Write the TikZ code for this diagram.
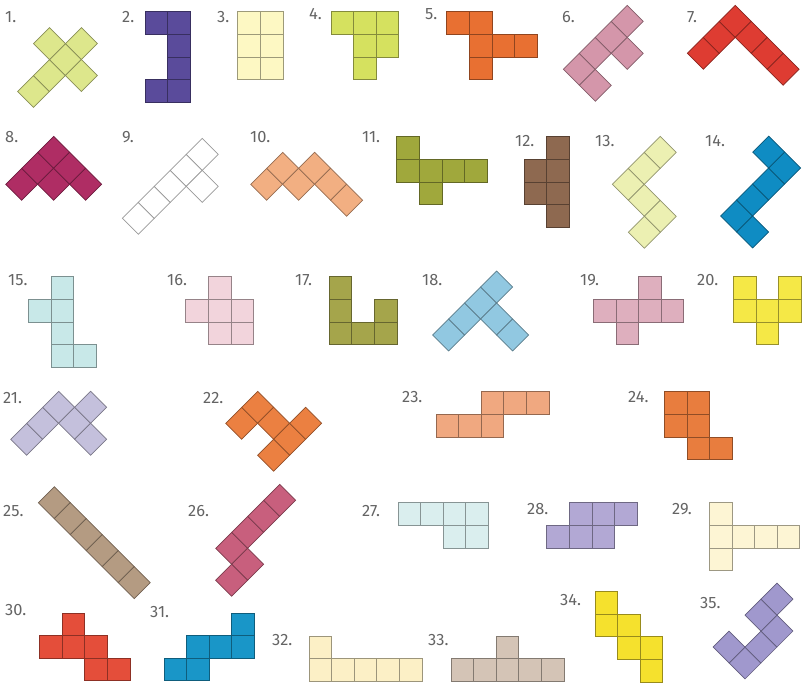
\documentclass[tikz,border=0pt]{standalone}
\usepackage{fontspec}
\setmainfont{Fira Sans}
\usepackage{tikz}
\usetikzlibrary{positioning}
\definecolor{labgrey}{RGB}{100,100,100}
\definecolor{limelt}{RGB}{221,231,140}
\definecolor{purpdk}{RGB}{90,75,155}
\definecolor{yellt}{RGB}{253,248,195}
\definecolor{lime}{RGB}{213,225,95}
\definecolor{orng}{RGB}{232,112,50}
\definecolor{mauve}{RGB}{212,150,170}
\definecolor{redd}{RGB}{222,60,50}
\definecolor{magen}{RGB}{175,45,100}
\definecolor{peach}{RGB}{242,175,130}
\definecolor{olive}{RGB}{160,168,60}
\definecolor{brwn}{RGB}{142,105,80}
\definecolor{palegreen}{RGB}{236,240,178}
\definecolor{bluedk}{RGB}{15,140,195}
\definecolor{cyanlt}{RGB}{200,232,232}
\definecolor{pinklt}{RGB}{242,212,220}
\definecolor{olivelt}{RGB}{165,165,75}
\definecolor{skyblue}{RGB}{145,200,225}
\definecolor{pink}{RGB}{222,175,190}
\definecolor{yell}{RGB}{245,232,70}
\definecolor{lavlt}{RGB}{196,192,220}
\definecolor{orng2}{RGB}{235,128,65}
\definecolor{salmon}{RGB}{240,168,128}
\definecolor{orng3}{RGB}{232,125,62}
\definecolor{tan}{RGB}{180,155,130}
\definecolor{rose}{RGB}{200,95,125}
\definecolor{cyanpl}{RGB}{218,238,238}
\definecolor{lavdk}{RGB}{178,168,212}
\definecolor{cream}{RGB}{253,245,212}
\definecolor{red2}{RGB}{228,78,58}
\definecolor{blue2}{RGB}{25,150,200}
\definecolor{cream2}{RGB}{252,240,198}
\definecolor{taupe}{RGB}{212,196,182}
\definecolor{yell2}{RGB}{245,225,45}
\definecolor{lav}{RGB}{160,152,205}
\tikzset{
  cellbox/.style={line width=0.6pt, line join=miter},
  netlabel/.style={anchor=west, inner sep=0pt, text=labgrey,
    font=\fontsize{14}{16}\selectfont}
}
\def\cs{22.6}
% #1 centre of cell 0/0, #2 angle, #3 colour, #4 cells
\newcommand{\hexnet}[4]{%
  \begin{scope}[shift={#1}, rotate=#2]
    \foreach \i/\j in {#4}
      \draw[cellbox, fill=#3, draw=#3!62!black]
        ({(\i-0.5)*\cs},{(\j-0.5)*\cs}) rectangle +(\cs,\cs);
  \end{scope}}

\begin{document}
\begin{tikzpicture}[x=0.03cm, y=-0.03cm]
  \useasboundingbox (0,0) rectangle (803,687);

  % Row 1
  \hexnet{(33.5,91.5)}{45}{limelt}{0/0,1/0,2/0,3/0,2/-1,2/1}
  \hexnet{(156.3,23)}{0}{purpdk}{0/0,1/0,1/1,1/2,1/3,0/3}
  \hexnet{(249,23)}{0}{yellt}{0/0,1/0,0/1,1/1,0/2,1/2}
  \hexnet{(342.3,23)}{0}{lime}{0/0,1/0,2/0,1/1,2/1,1/2}
  \hexnet{(458,23)}{0}{orng}{0/0,1/0,1/1,2/1,3/1,1/2}
  \hexnet{(579.3,69.3)}{45}{mauve}{0/0,1/0,2/0,3/0,2/1,0/1}
  \hexnet{(703.3,53.3)}{45}{redd}{0/0,1/0,2/0,2/1,2/2,2/3}
  \node[netlabel] (n1) at (5,17) {1.};
  \node[netlabel] (n2) at (122,17) {2.};
  \node[netlabel] (n3) at (217,17) {3.};
  \node[netlabel] (n4) at (309,14) {4.};
  \node[netlabel] (n5) at (425,14) {5.};
  \node[netlabel] (n6) at (562,17) {6.};
  \node[netlabel] (n7) at (687,17) {7.};

  % Row 2
  \hexnet{(21.7,184.3)}{45}{magen}{0/0,1/0,2/0,1/1,2/1,2/2}
  \begin{scope}[shift={(138.3,218.3)}, rotate=45]
    \foreach \i/\j in {0/0,1/0,2/0,3/0,4/0,3/1}
      \draw[cellbox, fill=white, draw=black!40]
        ({(\i-0.5)*\cs},{(\j-0.5)*\cs}) rectangle +(\cs,\cs);
  \end{scope}
  \hexnet{(266.7,184.3)}{45}{peach}{0/0,1/0,1/1,2/1,2/2,2/3}
  \hexnet{(408,148)}{0}{olive}{0/0,0/1,1/1,2/1,3/1,1/2}
  \hexnet{(535.3,148)}{0}{brwn}{1/0,1/1,1/2,1/3,0/1,0/2}
  \hexnet{(628.3,184.3)}{45}{palegreen}{0/0,1/0,2/0,0/1,0/2,-1/2}
  \hexnet{(736.7,216)}{45}{bluedk}{0/0,1/0,2/0,3/0,3/-1,0/1}
  \node[netlabel] (n8) at (5,137) {8.};
  \node[netlabel] (n9) at (122,137) {9.};
  \node[netlabel] (n10) at (250,137) {10.};
  \node[netlabel] (n11) at (362,137) {11.};
  \node[netlabel] (n12) at (515,141) {12.};
  \node[netlabel] (n13) at (595,141) {13.};
  \node[netlabel] (n14) at (705,141) {14.};

  % Row 3
  \hexnet{(39.7,288)}{0}{cyanlt}{1/0,1/1,1/2,1/3,0/1,2/3}
  \hexnet{(197,288)}{0}{pinklt}{1/0,0/1,1/1,2/1,1/2,2/2}
  \hexnet{(340.5,288)}{0}{olivelt}{0/0,0/1,0/2,1/2,2/2,2/1}
  \hexnet{(448.7,335)}{45}{skyblue}{0/0,1/0,2/0,3/0,2/1,2/2}
  \hexnet{(604.6,288)}{0}{pink}{2/0,0/1,1/1,2/1,3/1,1/2}
  \hexnet{(744.6,288)}{0}{yell}{0/0,2/0,0/1,1/1,2/1,1/2}
  \node[netlabel] (n15) at (8,280) {15.};
  \node[netlabel] (n16) at (167,280) {16.};
  \node[netlabel] (n17) at (295,280) {17.};
  \node[netlabel] (n18) at (422,280) {18.};
  \node[netlabel] (n19) at (580,280) {19.};
  \node[netlabel] (n20) at (697,280) {20.};

  % Row 4
  \hexnet{(26.7,439.3)}{45}{lavlt}{0/0,1/0,2/0,2/1,3/1,2/2}
  \hexnet{(241.7,423.3)}{45}{orng2}{0/0,1/0,1/1,1/2,2/2,0/2}
  \hexnet{(447.3,403)}{0}{salmon}{2/0,3/0,4/0,0/1,1/1,2/1}
  \hexnet{(675.6,403)}{0}{orng3}{0/0,1/0,0/1,1/1,1/2,2/2}
  \node[netlabel] (n21) at (3,398) {21.};
  \node[netlabel] (n22) at (203,398) {22.};
  \node[netlabel] (n23) at (402,397) {23.};
  \node[netlabel] (n24) at (628,397) {24.};

  % Row 5
  \hexnet{(54.3,502.7)}{45}{tan}{0/0,0/1,0/2,0/3,0/4,0/5}
  \hexnet{(231.7,548.3)}{45}{rose}{0/0,1/0,2/0,3/0,0/1,-1/1}
  \hexnet{(409.3,514)}{0}{cyanpl}{0/0,1/0,2/0,3/0,2/1,3/1}
  \hexnet{(558,514)}{0}{lavdk}{1/0,2/0,3/0,0/1,1/1,2/1}
  \hexnet{(720.6,514)}{0}{cream}{0/0,0/1,0/2,1/1,2/1,3/1}
  \node[netlabel] (n25) at (3,511) {25.};
  \node[netlabel] (n26) at (188,511) {26.};
  \node[netlabel] (n27) at (362,511) {27.};
  \node[netlabel] (n28) at (527,509) {28.};
  \node[netlabel] (n29) at (672,509) {29.};

  % Row 6
  \hexnet{(50.8,624.3)}{0}{red2}{1/0,0/1,1/1,2/1,2/2,3/2}
  \hexnet{(175.3,624.3)}{0}{blue2}{3/0,1/1,2/1,3/1,0/2,1/2}
  \hexnet{(320.3,647.3)}{0}{cream2}{0/0,0/1,1/1,2/1,3/1,4/1}
  \hexnet{(462.3,647.3)}{0}{taupe}{2/0,0/1,1/1,2/1,3/1,4/1}
  \hexnet{(606.3,602.8)}{0}{yell2}{0/0,0/1,1/1,1/2,2/2,2/3}
  \hexnet{(745,663)}{45}{lav}{0/0,0/-1,1/0,2/0,2/-1,3/-1}
  \node[netlabel] (n30) at (5,610) {30.};
  \node[netlabel] (n31) at (150,612) {31.};
  \node[netlabel] (n32) at (272,640) {32.};
  \node[netlabel] (n33) at (428,640) {33.};
  \node[netlabel] (n34) at (560,600) {34.};
  \node[netlabel] (n35) at (700,603) {35.};
\end{tikzpicture}
\end{document}
